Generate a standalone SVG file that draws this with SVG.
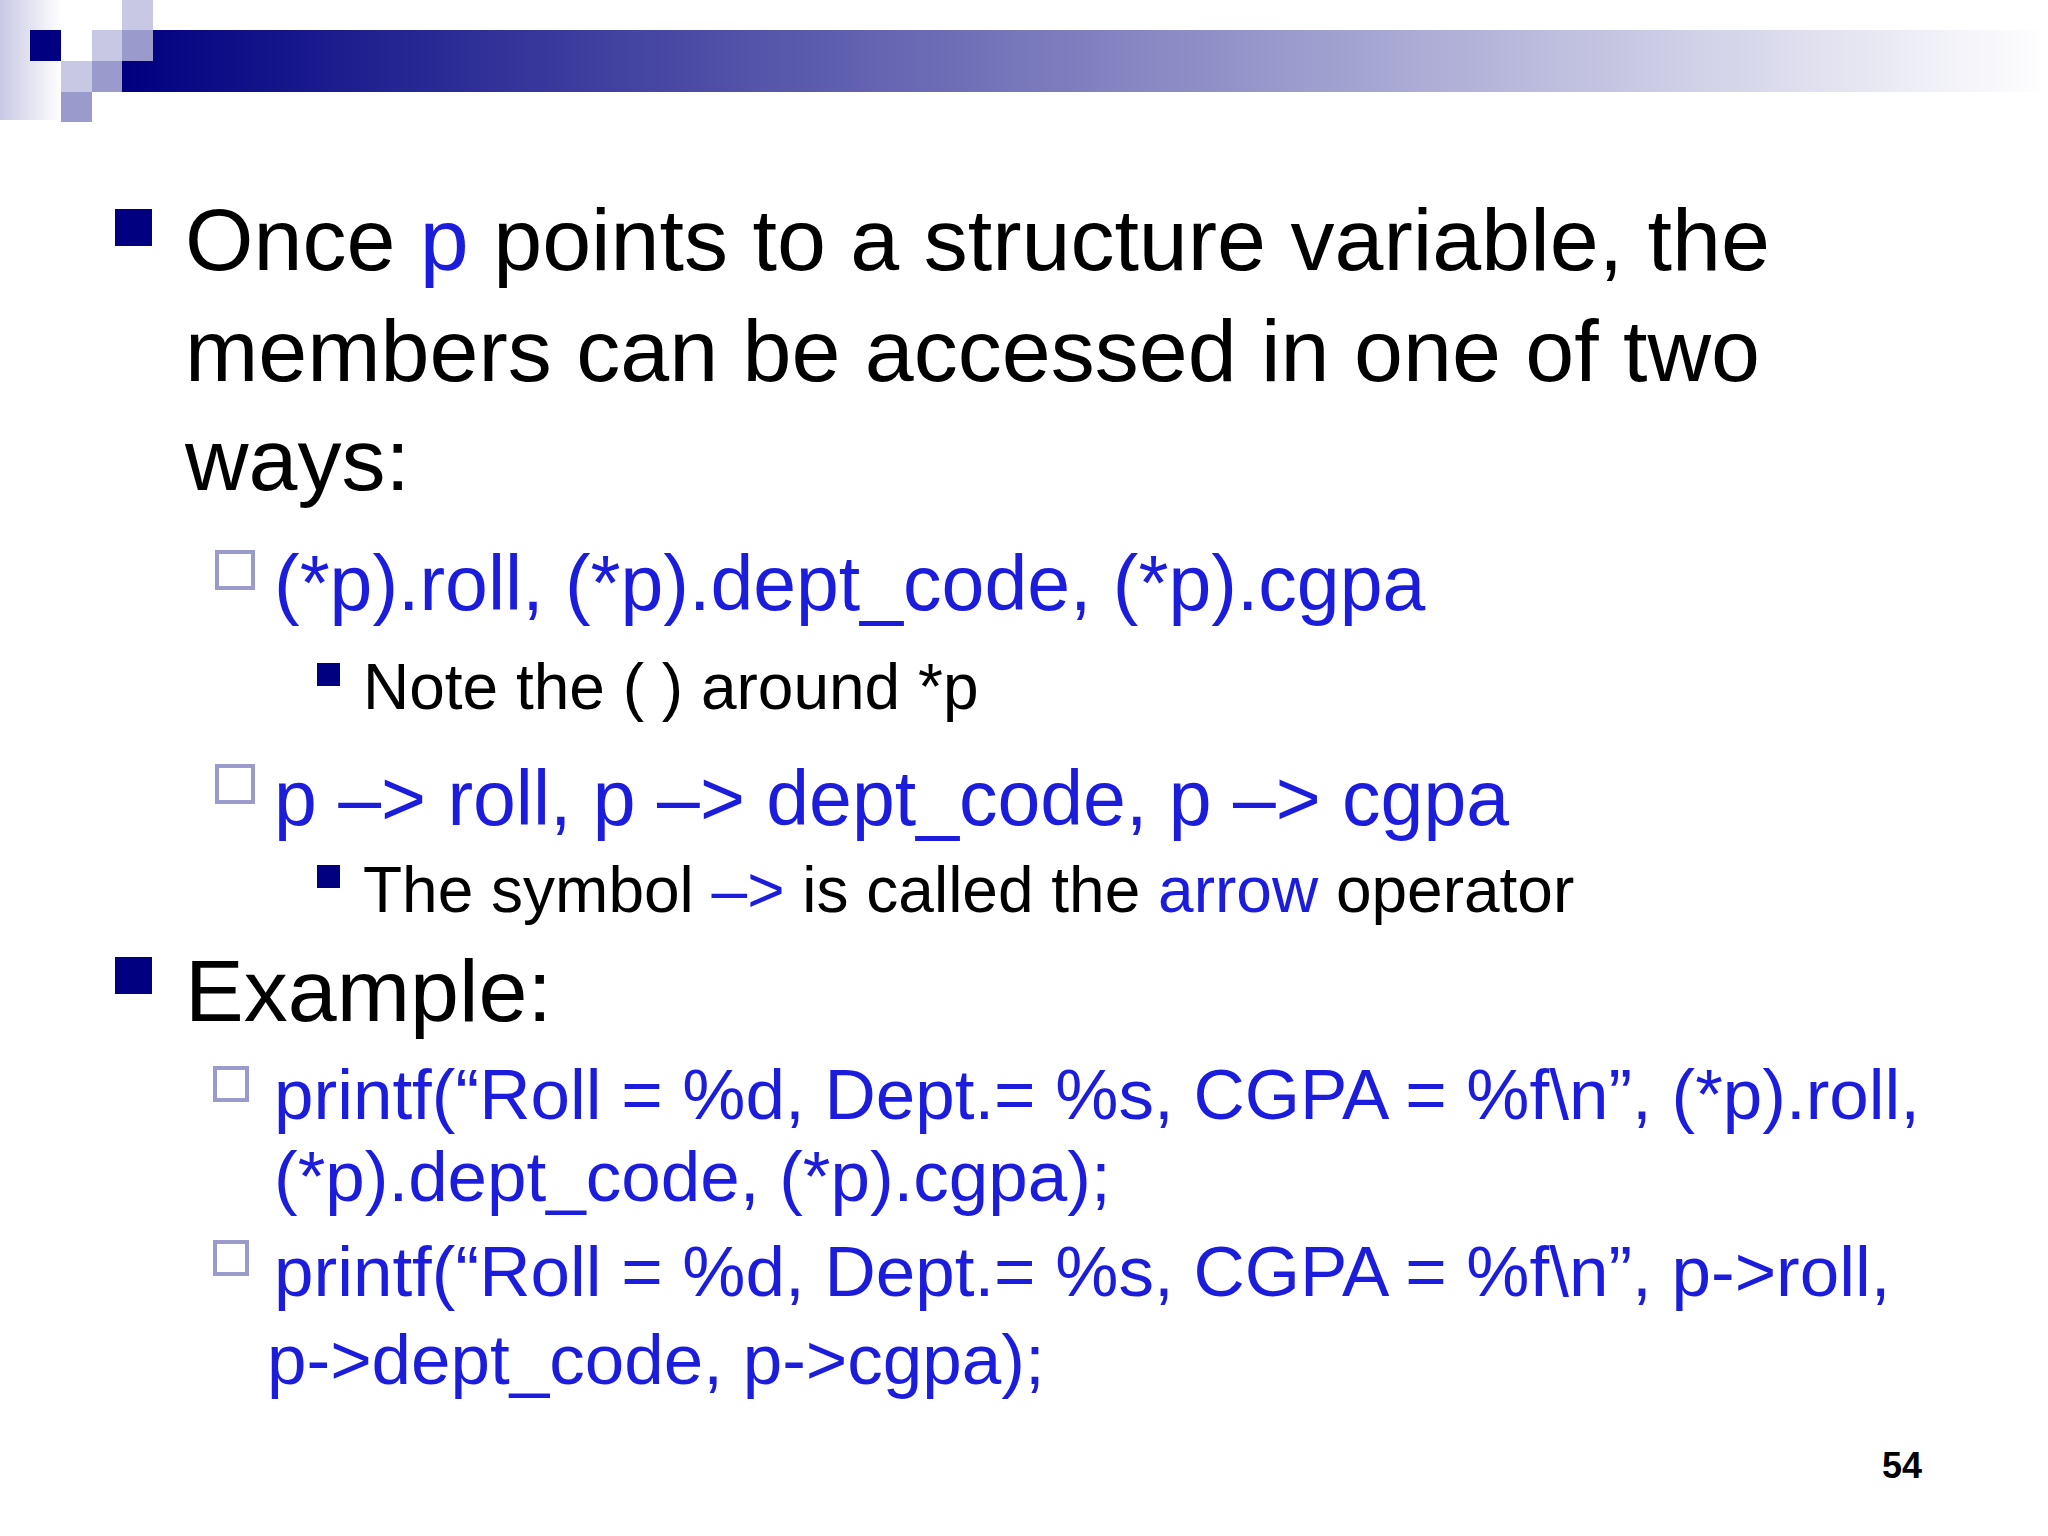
<svg xmlns="http://www.w3.org/2000/svg" width="2048" height="1536" viewBox="0 0 2048 1536">
<defs>
<linearGradient id="bar" x1="0" x2="1" y1="0" y2="0"><stop offset="0" stop-color="#000080"/><stop offset="1" stop-color="#ffffff"/></linearGradient>
<linearGradient id="side" x1="0" x2="1" y1="0" y2="0"><stop offset="0" stop-color="#c8c8e4"/><stop offset="1" stop-color="#ffffff"/></linearGradient>
</defs>
<style>
text{font-family:"Liberation Sans",Arial,sans-serif;fill:#000}
.b{fill:#1c1cdc}
.l1{font-size:88px}.l2{font-size:77px}.l3{font-size:64px}.l4{font-size:71px}
.hs{fill:#fff;stroke:#9a9acc;stroke-width:4}
</style>
<rect width="2048" height="1536" fill="#fff"/>
<g id="header">
<rect x="0" y="0" width="62" height="120" fill="url(#side)"/>
<rect x="122" y="30" width="1926" height="62" fill="url(#bar)"/>
<rect x="30" y="30" width="31" height="31" fill="#000080"/>
<rect x="92" y="30" width="30" height="31" fill="#c8c8e4"/>
<rect x="122" y="30" width="31" height="31" fill="#9a9acc"/>
<rect x="122" y="0" width="31" height="30" fill="#c8c8e4"/>
<rect x="61" y="61" width="31" height="31" fill="#c8c8e4"/>
<rect x="92" y="61" width="30" height="31" fill="#9a9acc"/>
<rect x="61" y="92" width="31" height="30" fill="#9a9acc"/>
</g>
<g id="bullets">
<rect x="115" y="209" width="37" height="37" fill="#000080"/>
<rect x="217" y="552" width="36" height="36" class="hs"/>
<rect x="317" y="663" width="23" height="23" fill="#000080"/>
<rect x="217" y="766" width="36" height="36" class="hs"/>
<rect x="317" y="865" width="23" height="23" fill="#000080"/>
<rect x="115" y="957" width="37" height="37" fill="#000080"/>
<rect x="215" y="1068" width="32" height="32" class="hs"/>
<rect x="215" y="1242" width="32" height="32" class="hs"/>
</g>
<g id="text">
<text x="185" y="270" class="l1">Once <tspan class="b">p</tspan> points to a structure variable, the</text>
<text x="185" y="381" class="l1">members can be accessed in one of two</text>
<text x="185" y="490" class="l1">ways:</text>
<text x="274" y="610" class="l2 b">(*p).roll, (*p).dept_code, (*p).cgpa</text>
<text x="363" y="709" class="l3">Note the ( ) around *p</text>
<text x="274" y="825" class="l2 b">p –&gt; roll, p –&gt; dept_code, p –&gt; cgpa</text>
<text x="363" y="912" class="l3">The symbol <tspan class="b">–&gt;</tspan> is called the <tspan class="b">arrow</tspan> operator</text>
<text x="185" y="1021" class="l1">Example:</text>
<text x="274" y="1119" class="l4 b">printf(“Roll = %d, Dept.= %s, CGPA = %f\n”, (*p).roll,</text>
<text x="274" y="1201" class="l4 b">(*p).dept_code, (*p).cgpa);</text>
<text x="274" y="1296" class="l4 b">printf(“Roll = %d, Dept.= %s, CGPA = %f\n”, p-&gt;roll,</text>
<text x="267" y="1384" class="l4 b">p-&gt;dept_code, p-&gt;cgpa);</text>
<text x="1922" y="1478" text-anchor="end" style="font-size:36px;font-weight:bold">54</text>
</g>
</svg>
